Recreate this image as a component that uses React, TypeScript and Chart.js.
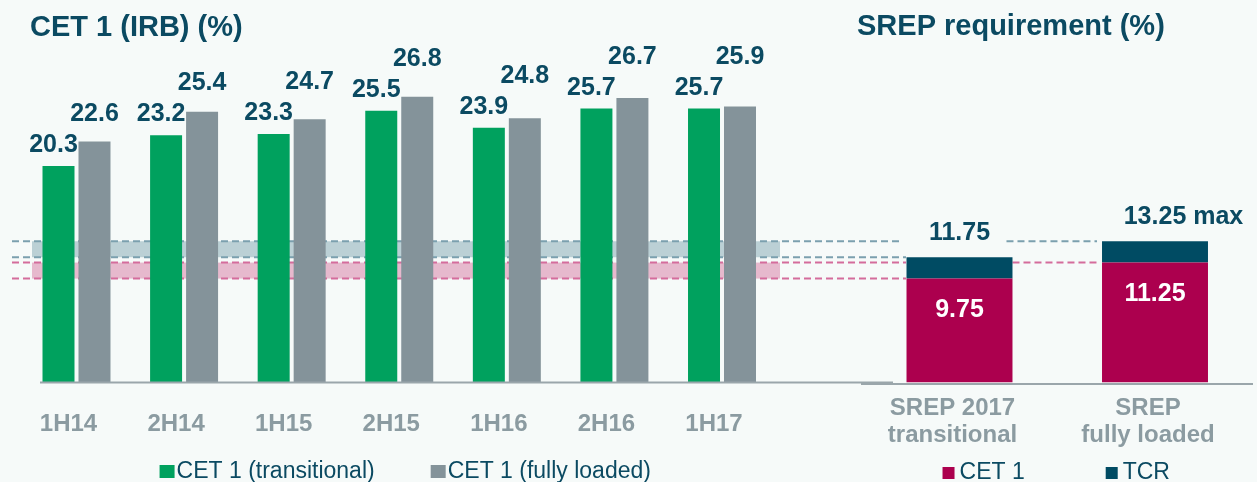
import React, { useEffect, useRef } from 'react';
import { Chart, registerables } from 'chart.js';

Chart.register(...registerables);

// ---------- data ----------
const categories = ['1H14', '2H14', '1H15', '2H15', '1H16', '2H16', '1H17'];
const cet1Transitional = [20.3, 23.2, 23.3, 25.5, 23.9, 25.7, 25.7];
const cet1FullyLoaded = [22.6, 25.4, 24.7, 26.8, 24.8, 26.7, 25.9];

const srepCategories = [['SREP 2017', 'transitional'], ['SREP', 'fully loaded']];
const srepCet1 = [9.75, 11.25];
const srepTcr = [11.75, 13.25];
const srepTotalSuffix = ['', ' max'];

const leftTitle = 'CET 1 (IRB) (%)';
const rightTitle = 'SREP requirement (%)';
const leftLegend = ['CET 1 (transitional)', 'CET 1 (fully loaded)'];
const rightLegend = ['CET 1', 'TCR'];

const Y_MAX = 32;

// ---------- styles ----------
const FONT = "'Liberation Sans', Arial, sans-serif";
const BG = '#f6faf9';
const GREEN = '#00a15e';
const GRAY = '#84939a';
const MAGENTA = '#ac004e';
const TEAL_DARK = '#004b63';
const TEXT_DARK = '#0b4a62';
const TICK_GRAY = '#8b9ba1';
const TEAL_BAND = '#bbd0d5';
const PINK_BAND = '#e6b9cd';
const TEAL_DASH = '#7ba0ae';
const PINK_DASH = '#d46c9c';
const AXIS = '#9aa6ab';

const H = 482;
const W_L = 906;
const W_R = 417;
const R_LEFT = 840;
const BASE_Y = 382.5;
const PX_PER_UNIT = 10.66;
const PAD_TOP = BASE_Y - Y_MAX * PX_PER_UNIT;
const X_AXIS_H = H - BASE_Y;

function drawLegend(
  ctx: CanvasRenderingContext2D,
  items: { text: string; color: string }[],
  centerX: number,
  baseline: number,
  boxW: number,
  boxH: number,
  textGap: number,
  itemGap: number,
  font: string
) {
  ctx.save();
  ctx.font = font;
  const widths = items.map((it) => boxW + textGap + ctx.measureText(it.text).width);
  const total = widths.reduce((a, b) => a + b, 0) + itemGap * (items.length - 1);
  let x = centerX - total / 2;
  ctx.textBaseline = 'alphabetic';
  ctx.textAlign = 'left';
  items.forEach((it, i) => {
    ctx.fillStyle = it.color;
    ctx.fillRect(x, baseline - boxH, boxW, boxH);
    ctx.fillStyle = TEXT_DARK;
    ctx.fillText(it.text, x + boxW + textGap, baseline);
    x += widths[i] + itemGap;
  });
  ctx.restore();
}

function dashedLine(ctx: CanvasRenderingContext2D, x0: number, x1: number, y: number, color: string) {
  ctx.save();
  ctx.strokeStyle = color;
  ctx.lineWidth = 2;
  ctx.setLineDash([7, 4]);
  ctx.beginPath();
  ctx.moveTo(x0, y);
  ctx.lineTo(x1, y);
  ctx.stroke();
  ctx.restore();
}

const leftDecor = {
  id: 'leftDecor',
  beforeDatasetsDraw(chart: any) {
    const { ctx } = chart;
    const y = chart.scales.y;
    ctx.save();
    const tTop = y.getPixelForValue(srepTcr[1]);
    const tBot = y.getPixelForValue(srepTcr[0]);
    const pTop = y.getPixelForValue(srepCet1[1]);
    const pBot = y.getPixelForValue(srepCet1[0]);
    ctx.fillStyle = TEAL_BAND;
    ctx.fillRect(32, tTop, 748, tBot - tTop);
    ctx.fillStyle = PINK_BAND;
    ctx.fillRect(32, pTop, 748, pBot - pTop);
    ctx.restore();
    dashedLine(ctx, 12, W_L - 3, tTop, TEAL_DASH);
    dashedLine(ctx, 12, W_L, tBot, TEAL_DASH);
    dashedLine(ctx, 12, W_L, pTop, PINK_DASH);
    dashedLine(ctx, 12, W_L, pBot, PINK_DASH);
  },
  afterDatasetsDraw(chart: any) {
    const { ctx, chartArea } = chart;
    ctx.save();
    ctx.strokeStyle = AXIS;
    ctx.lineWidth = 2;
    ctx.beginPath();
    ctx.moveTo(40, chartArea.bottom);
    ctx.lineTo(893, chartArea.bottom);
    ctx.stroke();

    ctx.font = `bold 25px ${FONT}`;
    ctx.fillStyle = TEXT_DARK;
    ctx.textAlign = 'center';
    ctx.textBaseline = 'alphabetic';
    const m0 = chart.getDatasetMeta(0);
    const m1 = chart.getDatasetMeta(1);
    m0.data.forEach((bar: any, i: number) => {
      const greenBase = bar.y - 14;
      ctx.fillText(cet1Transitional[i].toFixed(1), bar.x - 5, greenBase);
      // fully loaded label: above its bar, and kept clear of the neighbouring label
      const gBar = m1.data[i];
      const grayBase = Math.min(gBar.y - 19, greenBase - 31);
      ctx.fillText(cet1FullyLoaded[i].toFixed(1), gBar.x, grayBase);
    });
    ctx.restore();
  },
  afterDraw(chart: any) {
    const { ctx, chartArea } = chart;
    ctx.save();
    ctx.font = `bold 29px ${FONT}`;
    ctx.fillStyle = TEXT_DARK;
    ctx.textAlign = 'left';
    ctx.textBaseline = 'alphabetic';
    ctx.fillText(leftTitle, 30, 36);
    ctx.restore();
    drawLegend(
      ctx,
      [
        { text: leftLegend[0], color: GREEN },
        { text: leftLegend[1], color: GRAY },
      ],
      (chartArea.left + chartArea.right) / 2 + 6,
      478,
      15,
      13,
      2,
      56,
      `23px ${FONT}`
    );
  },
};

const rightDecor = {
  id: 'rightDecor',
  beforeDatasetsDraw(chart: any) {
    const { ctx } = chart;
    const y = chart.scales.y;
    const meta = chart.getDatasetMeta(0);
    const b0 = meta.data[0];
    const b1 = meta.data[1];
    const b0r = b0.x + b0.width / 2;
    const b1l = b1.x - b1.width / 2;
    dashedLine(ctx, b0r - 6, b1l - 5, y.getPixelForValue(srepTcr[1]), TEAL_DASH);
    dashedLine(ctx, b0r, b1l - 5, y.getPixelForValue(srepCet1[1]), PINK_DASH);
  },
  afterDatasetsDraw(chart: any) {
    const { ctx, chartArea } = chart;
    const y = chart.scales.y;
    ctx.save();
    ctx.strokeStyle = AXIS;
    ctx.lineWidth = 2;
    ctx.beginPath();
    ctx.moveTo(21, chartArea.bottom + 1.5);
    ctx.lineTo(413, chartArea.bottom + 1.5);
    ctx.stroke();

    const meta = chart.getDatasetMeta(0);
    ctx.font = `bold 25px ${FONT}`;
    ctx.textBaseline = 'alphabetic';
    meta.data.forEach((bar: any, i: number) => {
      // inside CET 1 label
      ctx.fillStyle = '#ffffff';
      ctx.textAlign = 'center';
      ctx.fillText(srepCet1[i].toFixed(2), bar.x, y.getPixelForValue(srepCet1[i]) + 38);
      // total label
      const txt = srepTcr[i].toFixed(2);
      const w = ctx.measureText(txt).width;
      ctx.fillStyle = TEXT_DARK;
      ctx.textAlign = 'left';
      ctx.fillText(txt + srepTotalSuffix[i], bar.x - w / 2, y.getPixelForValue(srepTcr[i]) - 17);
    });
    ctx.restore();
  },
  afterDraw(chart: any) {
    const { ctx, chartArea } = chart;
    ctx.save();
    ctx.font = `bold 29px ${FONT}`;
    ctx.fillStyle = TEXT_DARK;
    ctx.textAlign = 'left';
    ctx.textBaseline = 'alphabetic';
    ctx.fillText(rightTitle, 17, 35);
    ctx.restore();
    drawLegend(
      ctx,
      [
        { text: rightLegend[0], color: MAGENTA },
        { text: rightLegend[1], color: TEAL_DARK },
      ],
      (chartArea.left + chartArea.right) / 2 - 1,
      479,
      12,
      12,
      5,
      81,
      `23px ${FONT}`
    );
  },
};

function leftConfig(): any {
  return {
    type: 'bar',
    data: {
      labels: categories,
      datasets: [
        {
          label: leftLegend[0],
          data: cet1Transitional,
          backgroundColor: GREEN,
          categoryPercentage: 0.669,
          barPercentage: 0.889,
        },
        {
          label: leftLegend[1],
          data: cet1FullyLoaded,
          backgroundColor: GRAY,
          categoryPercentage: 0.669,
          barPercentage: 0.889,
        },
      ],
    },
    options: {
      responsive: false,
      animation: false,
      events: [],
      layout: { padding: { left: 22.7, right: W_L - 775.8, top: PAD_TOP, bottom: 0 } },
      plugins: { legend: { display: false }, tooltip: { enabled: false }, title: { display: false } },
      scales: {
        x: {
          grid: { display: false, drawTicks: false },
          border: { display: false },
          ticks: {
            color: TICK_GRAY,
            font: { family: FONT, size: 24, weight: 'bold', lineHeight: 1.2 },
            padding: 27,
            labelOffset: -8,
            autoSkip: false,
            maxRotation: 0,
          },
          afterFit: (s: any) => {
            s.height = X_AXIS_H;
          },
        },
        y: { display: false, min: 0, max: Y_MAX },
      },
    },
    plugins: [leftDecor],
  };
}

function rightConfig(): any {
  return {
    type: 'bar',
    data: {
      labels: srepCategories,
      datasets: [
        {
          label: rightLegend[0],
          data: srepCet1,
          backgroundColor: MAGENTA,
          stack: 's',
          categoryPercentage: 1,
          barPercentage: 0.542,
        },
        {
          label: rightLegend[1],
          data: srepTcr.map((v, i) => v - srepCet1[i]),
          backgroundColor: TEAL_DARK,
          stack: 's',
          categoryPercentage: 1,
          barPercentage: 0.542,
        },
      ],
    },
    options: {
      responsive: false,
      animation: false,
      events: [],
      layout: { padding: { left: 861.75 - R_LEFT, right: W_R - (1252.75 - R_LEFT), top: PAD_TOP, bottom: 0 } },
      plugins: { legend: { display: false }, tooltip: { enabled: false }, title: { display: false } },
      scales: {
        x: {
          stacked: true,
          grid: { display: false, drawTicks: false },
          border: { display: false },
          ticks: {
            color: TICK_GRAY,
            font: { family: FONT, size: 24, weight: 'bold', lineHeight: 1.125 },
            padding: 12,
            labelOffset: -7,
            autoSkip: false,
            maxRotation: 0,
          },
          afterFit: (s: any) => {
            s.height = X_AXIS_H;
          },
        },
        y: { display: false, stacked: true, min: 0, max: Y_MAX },
      },
    },
    plugins: [rightDecor],
  };
}

export default function App() {
  const leftRef = useRef<HTMLCanvasElement>(null);
  const rightRef = useRef<HTMLCanvasElement>(null);

  useEffect(() => {
    const l = new Chart(leftRef.current as HTMLCanvasElement, leftConfig());
    const r = new Chart(rightRef.current as HTMLCanvasElement, rightConfig());
    return () => {
      l.destroy();
      r.destroy();
    };
  }, []);

  return (
    <div
      style={{
        position: 'fixed',
        left: 0,
        top: 0,
        width: 1257,
        height: H,
        background: BG,
        overflow: 'hidden',
      }}
    >
      <canvas
        ref={leftRef}
        width={W_L}
        height={H}
        style={{ position: 'absolute', left: 0, top: 0, width: W_L, height: H }}
      />
      <canvas
        ref={rightRef}
        width={W_R}
        height={H}
        style={{ position: 'absolute', left: R_LEFT, top: 0, width: W_R, height: H }}
      />
    </div>
  );
}
